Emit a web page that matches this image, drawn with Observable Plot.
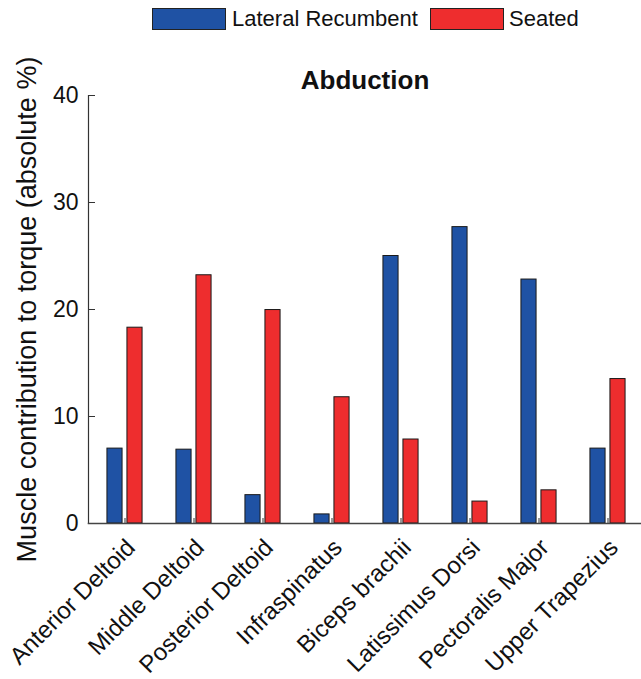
<!DOCTYPE html>
<html>
<head>
<meta charset="utf-8">
<script src="https://cdn.jsdelivr.net/npm/d3@7"></script>
<script src="https://cdn.jsdelivr.net/npm/@observablehq/plot@0.6"></script>
<style>
  html, body { margin: 0; padding: 0; background: #fff; }
  body { width: 641px; height: 679px; overflow: hidden; font-family: "Liberation Sans", Arial, sans-serif; }
  #legend { position: relative; height: 40px; width: 641px; }
  .sw { position: absolute; top: 8px; width: 72px; height: 20px; border: 1px solid #222; }
  .lt { position: absolute; top: 6px; font-size: 22px; color: #111; line-height: 26px; }
</style>
</head>
<body>
<div id="legend"></div>
<div id="chart"></div>
<script>
const muscles = ["Anterior Deltoid", "Middle Deltoid", "Posterior Deltoid", "Infraspinatus",
                 "Biceps brachii", "Latissimus Dorsi", "Pectoralis Major", "Upper Trapezius"];
const lateralRecumbent = [7.0, 6.9, 2.65, 0.85, 25.0, 27.7, 22.8, 7.0];
const seated = [18.3, 23.2, 19.95, 11.8, 7.85, 2.05, 3.1, 13.5];
const seriesNames = ["Lateral Recumbent", "Seated"];
const seriesColors = ["#1f52a4", "#ee2d2e"];
const yTicks = [0, 10, 20, 30, 40];
const titleText = "Abduction";
const yLabel = "Muscle contribution to torque (absolute %)";

// legend
const legend = document.getElementById("legend");
const legendPos = [[152, 232], [430, 509]];
seriesNames.forEach((name, i) => {
  const sw = document.createElement("div");
  sw.className = "sw";
  sw.style.left = legendPos[i][0] + "px";
  sw.style.background = seriesColors[i];
  legend.appendChild(sw);
  const t = document.createElement("div");
  t.className = "lt";
  t.style.left = legendPos[i][1] + "px";
  t.textContent = name;
  legend.appendChild(t);
});

const rowsLR = muscles.map((m, i) => ({muscle: m, value: lateralRecumbent[i]}));
const rowsS = muscles.map((m, i) => ({muscle: m, value: seated[i]}));

const width = 641, height = 639;
const marginLeft = 88, marginRight = 0, marginTop = 55, marginBottom = 156;
const frameW = width - marginLeft - marginRight;
const frameH = height - marginTop - marginBottom;
const step = (645 - 86) / muscles.length;
const half = step / 2;

const chart = Plot.plot({
  width, height, marginLeft, marginRight, marginTop, marginBottom,
  style: {fontFamily: "Liberation Sans, Arial, sans-serif", color: "#111", background: "#fff"},
  x: {domain: muscles, range: [86, 645], padding: 0},
  y: {domain: [0, 40], ticks: yTicks},
  marks: [
    Plot.barY(rowsLR, {x: "muscle", y: "value", fill: seriesColors[0], stroke: "#1a1a1a", strokeWidth: 1,
      insetLeft: half - 18, insetRight: half + 2}),
    Plot.barY(rowsS, {x: "muscle", y: "value", fill: seriesColors[1], stroke: "#1a1a1a", strokeWidth: 1,
      insetLeft: half + 2, insetRight: half - 18}),
    // inward x ticks
    Plot.ruleX(muscles, {x: d => d, stroke: "#777", strokeWidth: 1.5, insetTop: frameH - 5}),
    // inward y ticks
    Plot.ruleY(yTicks, {y: d => d, stroke: "#333", strokeWidth: 1, insetRight: frameW - 7}),
    Plot.frame({anchor: "left", stroke: "#333", strokeWidth: 1.2}),
    Plot.frame({anchor: "bottom", stroke: "#444", strokeWidth: 1.5}),
    Plot.axisY({ticks: yTicks, tickSize: 0, tickPadding: 10, fontSize: 23, label: null}),
    Plot.axisX({tickSize: 0, tickRotate: -45, tickPadding: 20, dx: 6, fontSize: 24, label: null}),
    Plot.text([titleText], {frameAnchor: "top", lineAnchor: "middle", dy: -15, fontSize: 26, fontWeight: "bold", fill: "#111"}),
    Plot.text([yLabel], {frameAnchor: "left", textAnchor: "middle", lineAnchor: "middle", rotate: -90, dx: -61, fontSize: 27, fill: "#111"})
  ]
});
document.getElementById("chart").appendChild(chart);
</script>
</body>
</html>
